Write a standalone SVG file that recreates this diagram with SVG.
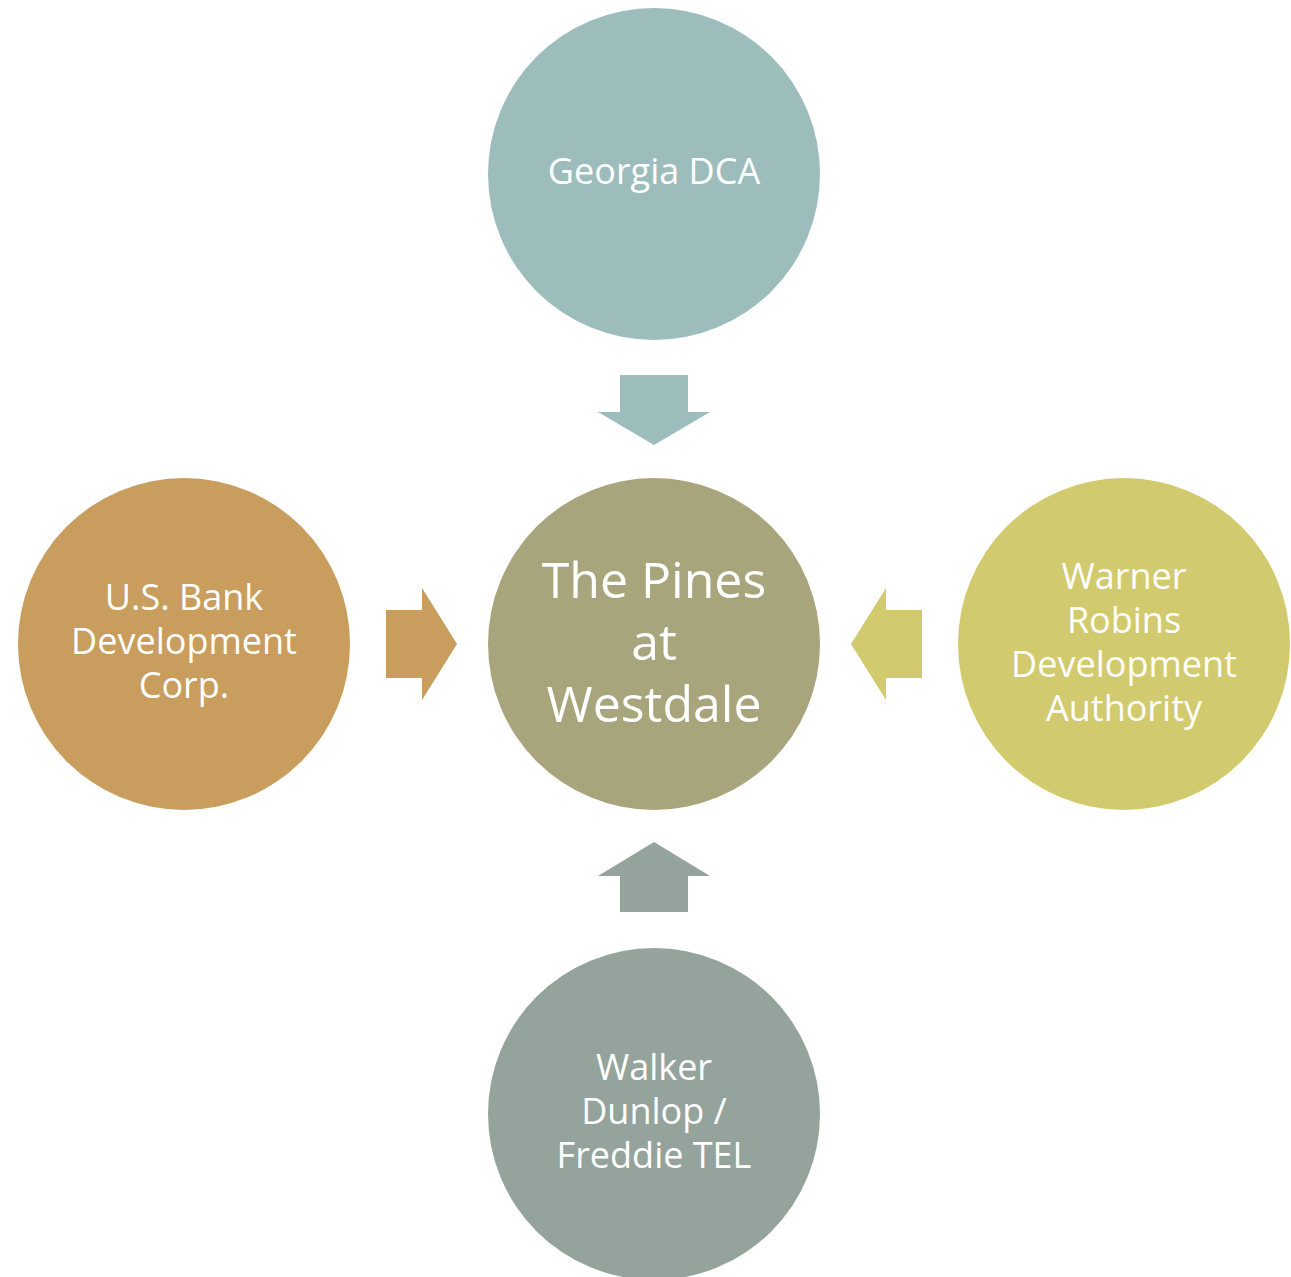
<svg xmlns="http://www.w3.org/2000/svg" width="1291" height="1277" viewBox="0 0 1291 1277">
<style>
text{font-family:"Open Sans","Noto Sans",sans-serif;fill:#ffffff;text-anchor:middle;dominant-baseline:central}
.s{font-size:36px}
.b{font-size:50px}
</style>
<rect width="1291" height="1277" fill="#ffffff"/>
<g id="connectors">
<polygon id="arrow-top" fill="#9DBDBD" points="620,375 688,375 688,412 710,412 654,445 598,412 620,412"/>
<polygon id="arrow-bottom" fill="#94A39C" points="620,912 688,912 688,876 710,876 654,842 598,876 620,876"/>
<polygon id="arrow-left" fill="#C89D5E" points="386,610 422,610 422,588 457,644 422,700 422,678 386,678"/>
<polygon id="arrow-right" fill="#D2CA6E" points="922,610 886,610 886,588 851,644 886,700 886,678 922,678"/>
</g>
<g id="node-top">
<circle cx="654" cy="174" r="166" fill="#9DBDBD"/>
<text class="s" x="654" y="170">Georgia DCA</text>
</g>
<g id="node-center">
<circle cx="654" cy="644" r="166" fill="#A8A57C"/>
<text class="b" x="654" y="579">The Pines</text>
<text class="b" x="654" y="641">at</text>
<text class="b" x="654" y="703">Westdale</text>
</g>
<g id="node-left">
<circle cx="184" cy="644" r="166" fill="#C89D5E"/>
<text class="s" x="184" y="596">U.S. Bank</text>
<text class="s" x="184" y="640">Development</text>
<text class="s" x="184" y="684">Corp.</text>
</g>
<g id="node-right">
<circle cx="1124" cy="644" r="166" fill="#D2CA6E"/>
<text class="s" x="1124" y="575">Warner</text>
<text class="s" x="1124" y="619">Robins</text>
<text class="s" x="1124" y="663">Development</text>
<text class="s" x="1124" y="707">Authority</text>
</g>
<g id="node-bottom">
<circle cx="654" cy="1114" r="166" fill="#94A39C"/>
<text class="s" x="654" y="1066">Walker</text>
<text class="s" x="654" y="1110">Dunlop /</text>
<text class="s" x="654" y="1154">Freddie TEL</text>
</g>
</svg>
